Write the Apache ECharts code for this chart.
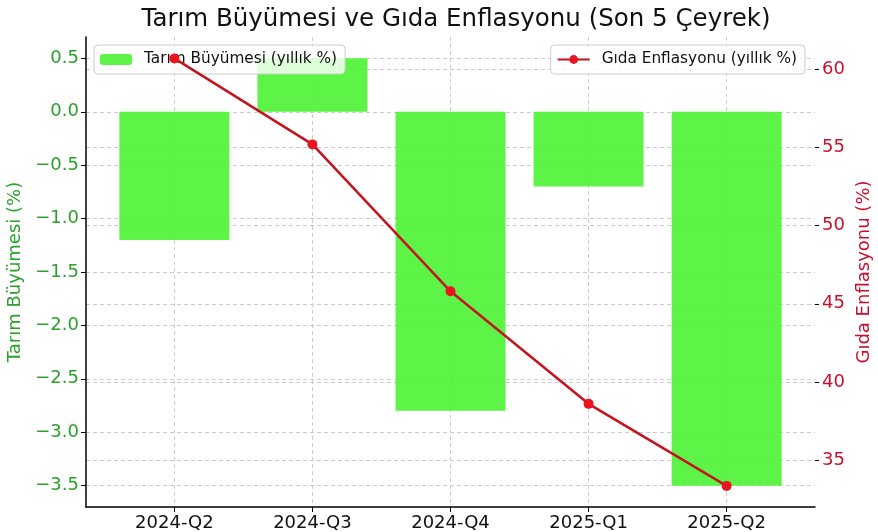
<!DOCTYPE html>
<html><head><meta charset="utf-8">
<script src="https://cdn.jsdelivr.net/npm/echarts@6/dist/echarts.min.js"></script>
<style>html,body{margin:0;padding:0;background:#fff}#c{width:878px;height:532px}</style>
</head><body><div id="c"></div>
<script>
const categories = ['2024-Q2','2024-Q3','2024-Q4','2025-Q1','2025-Q2'];
const agriGrowth = [-1.2, 0.5, -2.8, -0.7, -3.5];
const foodInflation = [60.7, 55.2, 45.8, 38.6, 33.35];
const leftTicks = [-3.5,-3.0,-2.5,-2.0,-1.5,-1.0,-0.5,0.0,0.5];
const rightTicks = [35,40,45,50,55,60];
const xTicks = [0,1,2,3,4];

const FONT = 'DejaVu Sans';
const GREEN = '#2ca02c';
const RED = '#c8102e';
const fmtL = v => (v < 0 ? '\u2212' + Math.abs(v).toFixed(1) : v.toFixed(1));

const legendBase = {
  itemWidth: 32, itemHeight: 11, z: 2,
  padding: [7, 8, 7, 6],
  backgroundColor: 'rgba(255,255,255,0.8)', borderColor: '#ccc', borderWidth: 1, borderRadius: 4,
  textStyle: {fontFamily: FONT, fontSize: 15.3, color: '#111', padding: [0, 0, 0, 7]}
};

const chart = echarts.init(document.getElementById('c'));
chart.setOption({
  animation: false,
  backgroundColor: '#fff',
  textStyle: {fontFamily: FONT},
  title: {
    text: 'Tarım Büyümesi ve Gıda Enflasyonu (Son 5 Çeyrek)',
    left: 451, textAlign: 'center', top: 2,
    textStyle: {fontFamily: FONT, fontSize: 24.5, fontWeight: 'normal', color: '#111'}
  },
  grid: {left: 86, right: 63, top: 37, bottom: 25, containLabel: false, outerBoundsMode: 'none'},
  legend: [
    Object.assign({}, legendBase, {data: ['Tarım Büyümesi (yıllık %)'], left: 94, top: 45}),
    Object.assign({}, legendBase, {data: ['Gıda Enflasyonu (yıllık %)'], right: 73, top: 45})
  ],
  xAxis: {
    type: 'value', min: -0.64, max: 4.64,
    axisLine: {show: true, onZero: false, lineStyle: {color: '#000', width: 1.5}},
    axisTick: {show: true, customValues: xTicks, length: 5, lineStyle: {color: '#000'}},
    axisLabel: {customValues: xTicks, formatter: v => categories[Math.round(v)] || '',
      fontFamily: FONT, fontSize: 18, color: '#111', margin: 7},
    splitLine: {show: true, lineStyle: {color: '#ccc', type: [4, 3], width: 1}}
  },
  yAxis: [
    {type: 'value', position: 'left', min: -3.7, max: 0.7,
     name: 'Tarım Büyümesi (%)', nameLocation: 'middle', nameGap: 58, nameRotate: 90,
     nameTextStyle: {fontFamily: FONT, fontSize: 18, color: GREEN},
     axisLine: {show: true, onZero: false, lineStyle: {color: '#000', width: 1.5}},
     axisTick: {show: true, customValues: leftTicks, length: 5, lineStyle: {color: '#000'}},
     axisLabel: {customValues: leftTicks, formatter: fmtL, fontFamily: FONT, fontSize: 18, color: GREEN, margin: 7},
     splitLine: {show: true, lineStyle: {color: '#ccc', type: [4, 3], width: 1}}},
    {type: 'value', position: 'right', min: 32.0, max: 62.07,
     name: 'Gıda Enflasyonu (%)', nameLocation: 'middle', nameGap: 32, nameRotate: 90,
     nameTextStyle: {fontFamily: FONT, fontSize: 18, color: RED},
     axisLine: {show: false, onZero: false},
     axisTick: {show: true, customValues: rightTicks, length: 4, lineStyle: {color: '#000'}},
     axisLabel: {customValues: rightTicks, fontFamily: FONT, fontSize: 18, color: RED, margin: 7},
     splitLine: {show: true, lineStyle: {color: '#ccc', type: [4, 3], width: 1}}}
  ],
  series: [
    {name: 'Tarım Büyümesi (yıllık %)', type: 'bar', yAxisIndex: 0, z: 1,
     data: agriGrowth.map((v, i) => [i, v]), barWidth: 110,
     itemStyle: {color: 'rgba(80,242,55,0.92)'}},
    {name: 'Gıda Enflasyonu (yıllık %)', type: 'line', yAxisIndex: 1, z: 3,
     data: foodInflation.map((v, i) => [i, v]),
     symbol: 'circle', symbolSize: 10,
     lineStyle: {color: '#c4141e', width: 2.5},
     itemStyle: {color: '#e8141e'}}
  ]
});
</script></body></html>
